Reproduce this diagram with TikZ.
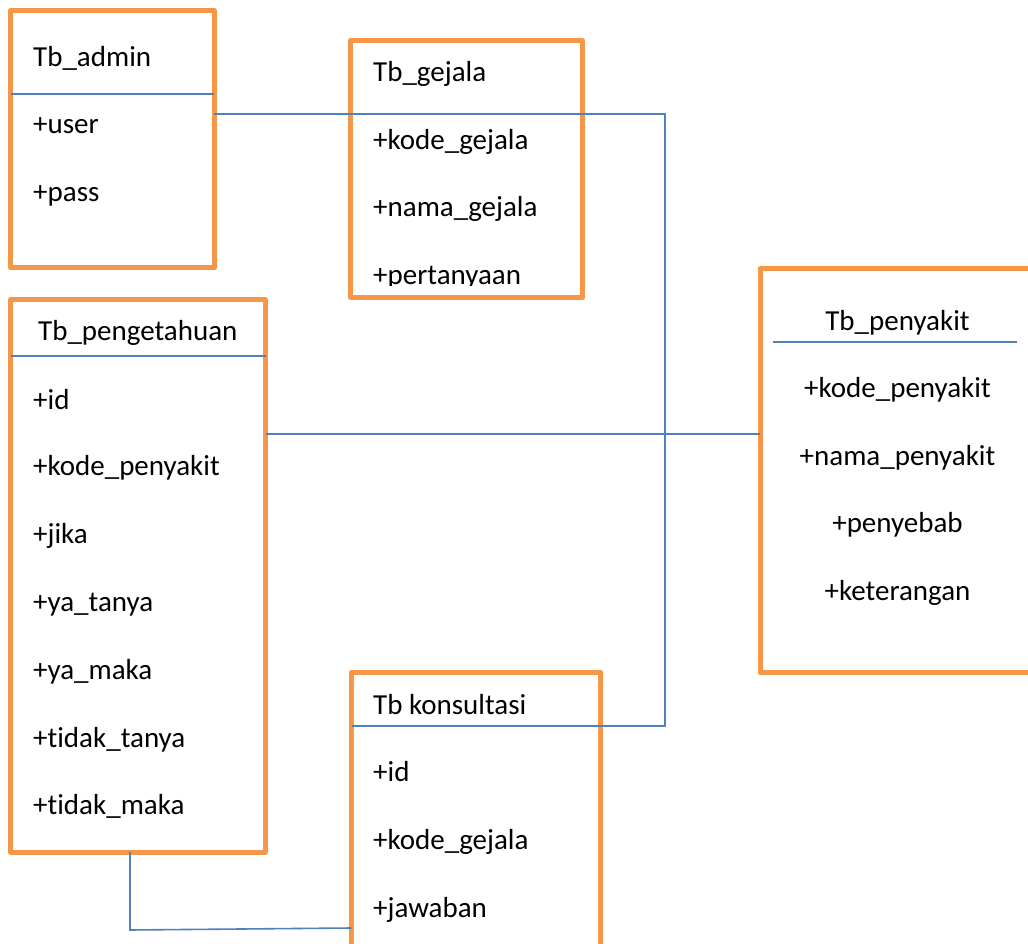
\documentclass[tikz,border=0pt]{standalone}
\usepackage{fontspec}
\setmainfont{Carlito}[Ligatures=NoCommon]
\definecolor{boxorange}{HTML}{F79646}
\definecolor{linkblue}{HTML}{4F81BD}
\begin{document}
\begin{tikzpicture}[x=1pt,y=-1pt,
  tbox/.style={draw=boxorange,line width=5pt,line join=round,inner sep=0pt,outer sep=0pt},
  link/.style={draw=linkblue,line width=1.6pt},
  attr/.style={anchor=base west,inner sep=0pt,font=\fontsize{29}{35}\selectfont},
  cattr/.style={anchor=base,inner sep=0pt,font=\fontsize{29}{35}\selectfont}]
\useasboundingbox (0,0) rectangle (1028,944);
\clip (0,0) rectangle (1028,944);
\fill[white] (0,0) rectangle (1028,944);
% boxes
\node[tbox,minimum width=203.5pt,minimum height=257pt] (admin) at (112.25,139) {};
\node[tbox,minimum width=232pt,minimum height=257pt] (gejala) at (466.5,169) {};
\node[tbox,minimum width=255pt,minimum height=552.5pt] (peng) at (138,575.75) {};
\node[tbox,minimum width=300pt,minimum height=404pt] (peny) at (910,470.5) {};
\node[tbox,minimum width=249pt,minimum height=300pt] (kons) at (476,822) {};
% coordinates
\coordinate (c1) at (665,114);
\coordinate (c2) at (665,726);
\coordinate (c3) at (130,930);
% separators
\draw[link] (admin.west |- 0,94) -- (admin.east |- 0,94);
\draw[link] (peng.west |- 0,356) -- (peng.east |- 0,356);
\draw[link] (773,342) -- (1017,342);
% connectors
\draw[link] (admin.east |- c1) -- (c1) -- (c2) -- (kons.west |- c2);
\draw[link] (peng.east |- 0,434) -- (peny.west |- 0,434);
\draw[link] (peng.south -| c3) -- (c3) -- (kons.west |- 0,928);
% texts
\node[attr] (t1) at (33,67) {Tb\_admin};
\node[attr] (t2) at (33,134) {+user};
\node[attr] (t3) at (33,202) {+pass};
\node[attr] (g1) at (373,82) {Tb\_gejala};
\node[attr] (g2) at (373,150) {+kode\_gejala};
\node[attr] (g3) at (373,217) {+nama\_gejala};
\begin{scope}
\clip (351,41) rectangle (583,285);
\node[attr] (g4) at (373,284) {+pertanyaan};
\end{scope}
\node[attr] (p1) at (38,340) {Tb\_pengetahuan};
\node[attr] (p2) at (33,409) {+id};
\node[attr] (p3) at (33,475) {+kode\_penyakit};
\node[attr] (p4) at (33,543) {+jika};
\node[attr] (p5) at (33,611) {+ya\_tanya};
\node[attr] (p6) at (33,679) {+ya\_maka};
\node[attr] (p7) at (33,747) {+tidak\_tanya};
\node[attr] (p8) at (33,814) {+tidak\_maka};
\node[cattr] (s1) at (897.5,330) {Tb\_penyakit};
\node[cattr] (s2) at (897.5,397) {+kode\_penyakit};
\node[cattr] (s3) at (897.5,465) {+nama\_penyakit};
\node[cattr] (s4) at (897.5,532) {+penyebab};
\node[cattr] (s5) at (897.5,600) {+keterangan};
\node[attr] (k1) at (373,714) {Tb konsultasi};
\node[attr] (k2) at (373,781) {+id};
\node[attr] (k3) at (373,849) {+kode\_gejala};
\node[attr] (k4) at (373,917) {+jawaban};
\end{tikzpicture}
\end{document}
